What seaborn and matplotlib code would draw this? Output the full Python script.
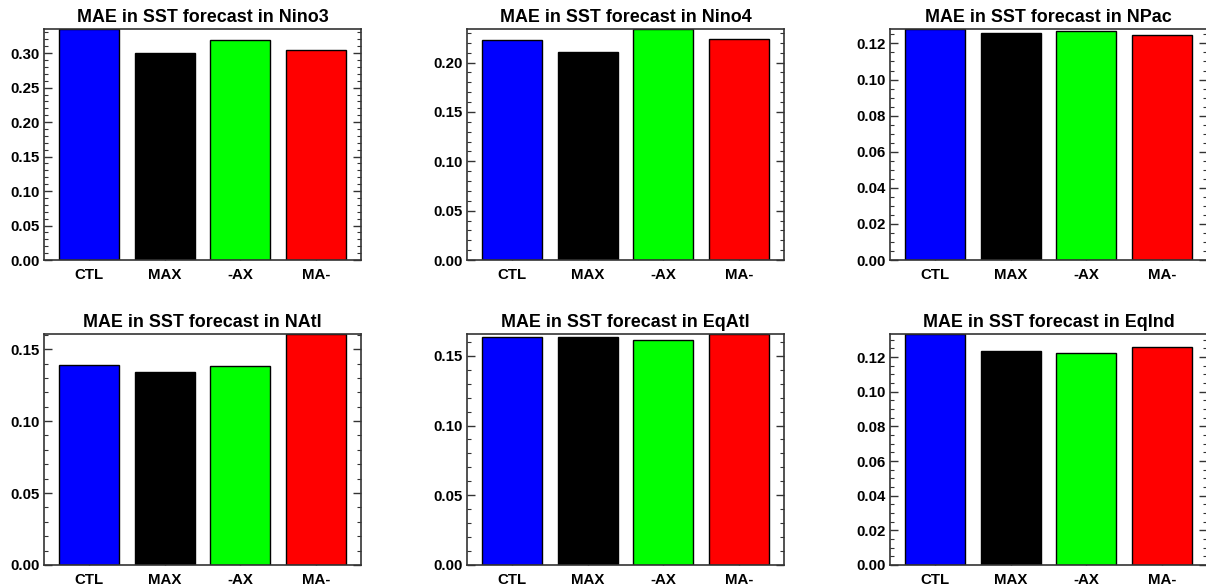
import matplotlib
matplotlib.use('Agg')
import matplotlib.pyplot as plt
import seaborn as sns
from matplotlib.ticker import MultipleLocator, AutoMinorLocator

# Experiments and bar colours
experiments = ['CTL', 'MAX', '-AX', 'MA-']
bar_colors = ['#0000ff', '#000000', '#00ff00', '#ff0000']

# Regions, in panel order
regions = ['Nino3', 'Nino4', 'NPac', 'NAtl', 'EqAtl', 'EqInd']

# MAE values per region
mae_nino3 = [0.335, 0.300, 0.319, 0.305]
mae_nino4 = [0.223, 0.211, 0.234, 0.224]
mae_npac = [0.128, 0.1259, 0.1267, 0.1248]
mae_natl = [0.139, 0.1344, 0.1384, 0.1605]
mae_eqatl = [0.1635, 0.1637, 0.1615, 0.1656]
mae_eqind = [0.1333, 0.1233, 0.1221, 0.126]

# Major tick step and number of minor subdivisions per panel
major_steps = [0.05, 0.05, 0.02, 0.05, 0.05, 0.02]
minor_divs = [5, 5, 4, 5, 5, 4]

all_values = [mae_nino3, mae_nino4, mae_npac, mae_natl, mae_eqatl, mae_eqind]

sns.set_style('ticks')
plt.rcParams['font.family'] = ['Liberation Sans', 'DejaVu Sans']
plt.rcParams['font.weight'] = 'bold'
plt.rcParams['text.color'] = 'black'
plt.rcParams['xtick.labelcolor'] = 'black'
plt.rcParams['ytick.labelcolor'] = 'black'

W, H = 1206, 588
fig = plt.figure(figsize=(W / 100, H / 100), dpi=100)

col_left = [44, 467, 890]
row_top = [29, 334]
ax_w, ax_h = 317, 231

for i, (region, vals) in enumerate(zip(regions, all_values)):
    r, c = divmod(i, 3)
    left = col_left[c] / W
    bottom = (H - row_top[r] - ax_h) / H
    ax = fig.add_axes([left, bottom, ax_w / W, ax_h / H])

    sns.barplot(x=experiments, y=vals, hue=experiments, palette=bar_colors,
                width=0.8, edgecolor='black', linewidth=1, legend=False,
                saturation=1, ax=ax)

    ax.set_xlim(-0.6, 3.6)
    ax.set_ylim(0, max(vals))
    ax.yaxis.set_major_locator(MultipleLocator(major_steps[i]))
    ax.yaxis.set_minor_locator(AutoMinorLocator(minor_divs[i]))
    ax.yaxis.set_major_formatter(plt.FormatStrFormatter('%.2f'))

    ax.tick_params(axis='y', which='both', direction='in', left=True, right=True,
                   labelsize=10.8, pad=3, color='#333333', labelcolor='black')
    ax.tick_params(axis='y', which='major', length=6, width=1)
    ax.tick_params(axis='y', which='minor', length=3, width=0.8)
    ax.tick_params(axis='x', which='major', direction='in', length=5, width=1,
                   labelsize=10.8, pad=6, color='#333333', top=False,
                   labelcolor='black')
    for lab in ax.get_xticklabels() + ax.get_yticklabels():
        lab.set_fontweight('bold')

    for sp in ax.spines.values():
        sp.set_visible(True)
        sp.set_color('#333333')
        sp.set_linewidth(1.2)

    ax.set_xlabel('')
    ax.set_ylabel('')
    ax.set_title(f'MAE in SST forecast in {region}', fontsize=12.9,
                 fontweight='bold', pad=5, color='black')

fig.savefig('out.png', dpi=100)
